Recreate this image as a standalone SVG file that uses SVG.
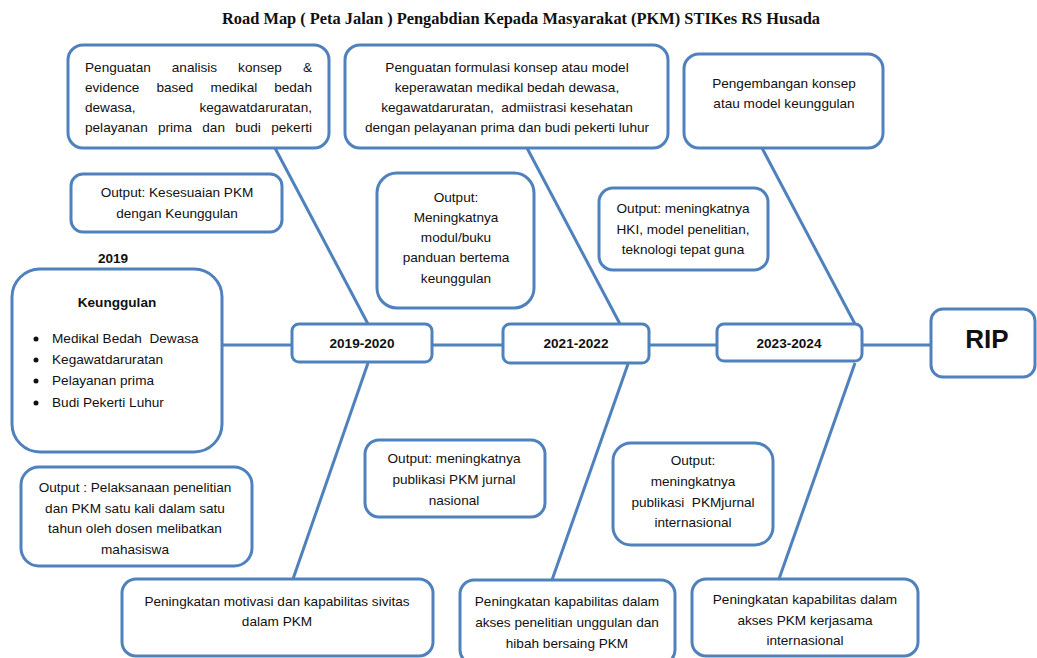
<svg xmlns="http://www.w3.org/2000/svg" width="1037" height="658" viewBox="0 0 1037 658">
<style>
.bx{fill:#fff;stroke:#4f81bd;stroke-width:3}
.ln{stroke:#4f81bd;stroke-width:3;fill:none}
.t{font-family:"Liberation Sans",Arial,sans-serif;font-size:13.6px;fill:#111}
.c{text-anchor:middle}
.e{text-anchor:end}
.b{font-weight:bold}
.ttl{font-family:"Liberation Serif","Times New Roman",serif;font-size:17.5px;font-weight:bold;fill:#111}
</style>
<rect width="1037" height="658" fill="#fff"/>
<text class="ttl" x="222" y="24" textLength="598" lengthAdjust="spacingAndGlyphs">Road Map ( Peta Jalan ) Pengabdian Kepada Masyarakat (PKM) STIKes RS Husada</text>
<g id="connectors">
<line class="ln" x1="222" y1="345" x2="292" y2="345"/>
<line class="ln" x1="432" y1="345" x2="503" y2="345"/>
<line class="ln" x1="649" y1="345" x2="717" y2="345"/>
<line class="ln" x1="862" y1="345" x2="931" y2="345"/>
<line class="ln" x1="275" y1="148" x2="368" y2="324"/>
<line class="ln" x1="527" y1="148" x2="620" y2="324"/>
<line class="ln" x1="762" y1="148" x2="855" y2="324"/>
<line class="ln" x1="368" y1="363" x2="293" y2="579"/>
<line class="ln" x1="628" y1="364" x2="552" y2="580"/>
<line class="ln" x1="855" y1="363" x2="779" y2="579"/>
</g>
<g id="top1">
<rect class="bx" x="68" y="45" width="261" height="103" rx="15"/>
<text class="t" y="72"><tspan x="85">Penguatan</tspan><tspan x="171.8">analisis</tspan><tspan x="238.1">konsep</tspan><tspan x="312" class="e">&amp;</tspan></text>
<text class="t" y="92"><tspan x="85">evidence</tspan><tspan x="156.4">based</tspan><tspan x="210.4">medikal</tspan><tspan x="312" class="e">bedah</tspan></text>
<text class="t" y="112"><tspan x="85">dewasa,</tspan><tspan x="312" class="e">kegawatdaruratan,</tspan></text>
<text class="t" y="132"><tspan x="85">pelayanan</tspan><tspan x="158">prima</tspan><tspan x="202.3">dan</tspan><tspan x="235.2">budi</tspan><tspan x="312" class="e">pekerti</tspan></text>
</g>
<g id="top2">
<rect class="bx" x="345" y="45" width="323" height="103" rx="15"/>
<text class="t c" x="507" y="72">Penguatan formulasi konsep atau model</text>
<text class="t c" x="507" y="92">keperawatan medikal bedah dewasa,</text>
<text class="t c" x="507" y="112">kegawatdaruratan,&#160; admiistrasi kesehatan</text>
<text class="t c" x="507" y="132">dengan pelayanan prima dan budi pekerti luhur</text>
</g>
<g id="top3">
<rect class="bx" x="684" y="54" width="199" height="94" rx="15"/>
<text class="t c" x="784" y="88">Pengembangan konsep</text>
<text class="t c" x="784" y="108">atau model keunggulan</text>
</g>
<g id="out-kesesuaian">
<rect class="bx" x="71" y="174" width="211" height="58" rx="12"/>
<text class="t c" x="177" y="197">Output: Kesesuaian PKM</text>
<text class="t c" x="177" y="218">dengan Keunggulan</text>
</g>
<g id="out-modul">
<rect class="bx" x="377" y="173" width="157" height="135" rx="20"/>
<text class="t c" x="456" y="202">Output:</text>
<text class="t c" x="456" y="222">Meningkatnya</text>
<text class="t c" x="456" y="242">modul/buku</text>
<text class="t c" x="456" y="262">panduan bertema</text>
<text class="t c" x="456" y="283">keunggulan</text>
</g>
<g id="out-hki">
<rect class="bx" x="599" y="188" width="169" height="82" rx="14"/>
<text class="t c" x="683" y="213">Output: meningkatnya</text>
<text class="t c" x="683" y="234">HKI, model penelitian,</text>
<text class="t c" x="683" y="254">teknologi tepat guna</text>
</g>
<g id="label-2019">
<text class="t b c" x="113" y="263">2019</text>
</g>
<g id="keunggulan">
<rect class="bx" x="12" y="269" width="210" height="183" rx="28"/>
<text class="t b c" x="117" y="307">Keunggulan</text>
<circle cx="36" cy="339" r="2.5" fill="#111"/>
<circle cx="36" cy="360" r="2.5" fill="#111"/>
<circle cx="36" cy="381" r="2.5" fill="#111"/>
<circle cx="36" cy="403" r="2.5" fill="#111"/>
<text class="t" x="52" y="343">Medikal Bedah&#160; Dewasa</text>
<text class="t" x="52" y="364">Kegawatdaruratan</text>
<text class="t" x="52" y="385">Pelayanan prima</text>
<text class="t" x="52" y="407">Budi Pekerti Luhur</text>
</g>
<g id="y2019-2020">
<rect class="bx" x="292" y="324" width="140" height="38" rx="7"/>
<text class="t b c" x="362" y="348">2019-2020</text>
</g>
<g id="y2021-2022">
<rect class="bx" x="503" y="324" width="146" height="39" rx="7"/>
<text class="t b c" x="576" y="348">2021-2022</text>
</g>
<g id="y2023-2024">
<rect class="bx" x="717" y="324" width="145" height="37" rx="7"/>
<text class="t b c" x="789" y="348">2023-2024</text>
</g>
<g id="rip">
<rect class="bx" x="931" y="309" width="104" height="68" rx="12"/>
<text class="t b c" x="987" y="348" style="font-size:26px">RIP</text>
</g>
<g id="out-nasional">
<rect class="bx" x="365" y="440" width="180" height="77" rx="14"/>
<text class="t c" x="454" y="463">Output: meningkatnya</text>
<text class="t c" x="454" y="484">publikasi PKM jurnal</text>
<text class="t c" x="454" y="505">nasional</text>
</g>
<g id="out-internasional">
<rect class="bx" x="613" y="443" width="160" height="102" rx="18"/>
<text class="t c" x="693" y="465">Output:</text>
<text class="t c" x="693" y="486">meningkatnya</text>
<text class="t c" x="693" y="507">publikasi&#160; PKMjurnal</text>
<text class="t c" x="693" y="527">internasional</text>
</g>
<g id="out-pelaksanaan">
<rect class="bx" x="21" y="467" width="231" height="99" rx="18"/>
<text class="t c" x="135" y="492">Output : Pelaksanaan penelitian</text>
<text class="t c" x="135" y="513">dan PKM satu kali dalam satu</text>
<text class="t c" x="135" y="533">tahun oleh dosen melibatkan</text>
<text class="t c" x="135" y="554">mahasiswa</text>
</g>
<g id="bottom1">
<rect class="bx" x="122" y="579" width="311" height="77" rx="14"/>
<text class="t c" x="277" y="606">Peningkatan motivasi dan kapabilitas sivitas</text>
<text class="t c" x="277" y="626">dalam PKM</text>
</g>
<g id="bottom2">
<rect class="bx" x="460" y="580" width="215" height="84" rx="14"/>
<text class="t c" x="567" y="606">Peningkatan kapabilitas dalam</text>
<text class="t c" x="567" y="627">akses penelitian unggulan dan</text>
<text class="t c" x="567" y="648">hibah bersaing PKM</text>
</g>
<g id="bottom3">
<rect class="bx" x="692" y="579" width="226" height="77" rx="14"/>
<text class="t c" x="805" y="604">Peningkatan kapabilitas dalam</text>
<text class="t c" x="805" y="625">akses PKM kerjasama</text>
<text class="t c" x="805" y="645">internasional</text>
</g>
</svg>
